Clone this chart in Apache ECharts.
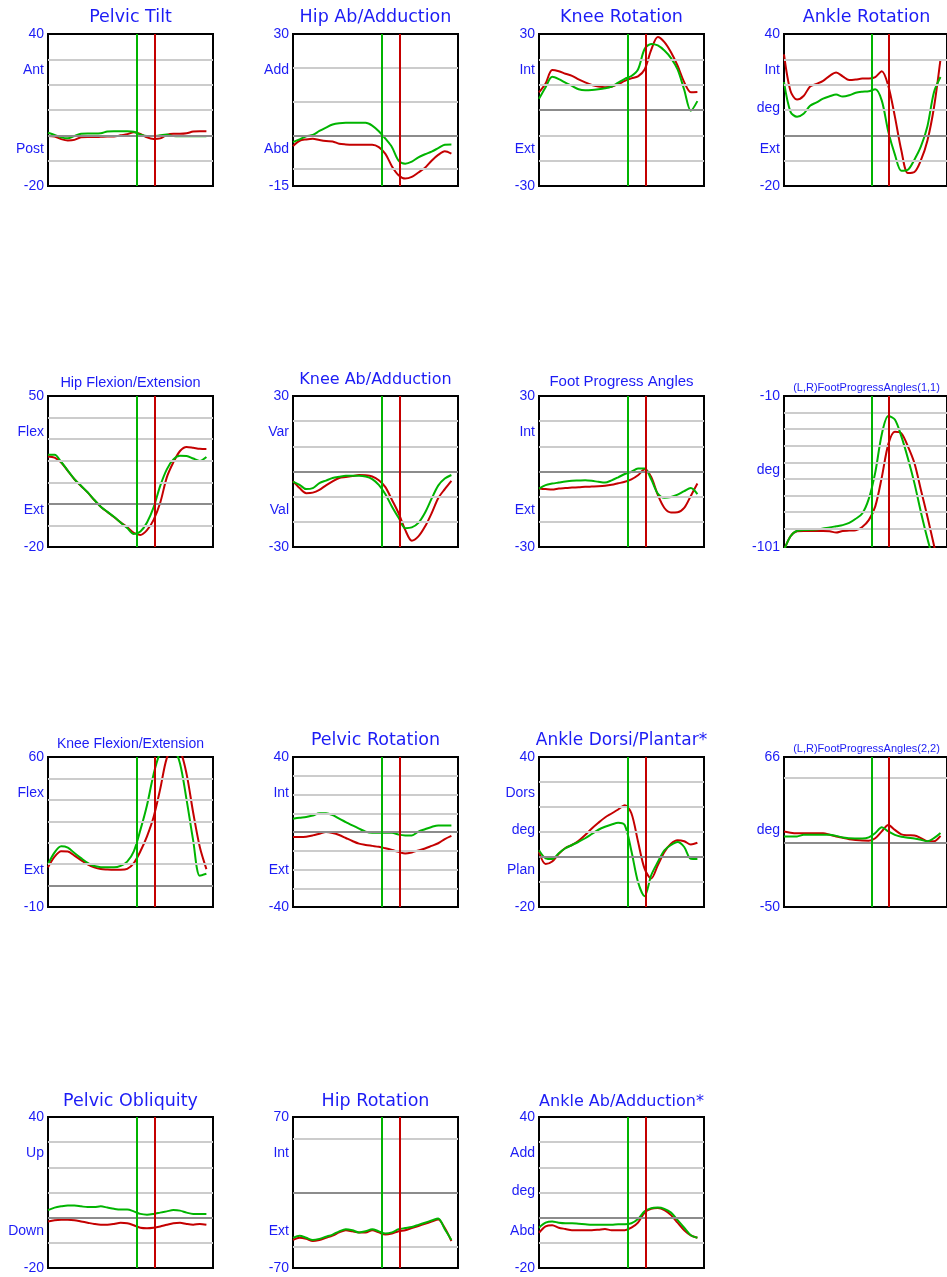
<!DOCTYPE html>
<html lang="en">
<head>
<meta charset="UTF-8">
<style>
html, body { height: 100%; margin: 0; background: #fff; }
</style>
</head>
<body>
<div id="chart" style="width:947px;height:1277px;"></div>
<script src="https://cdn.jsdelivr.net/npm/echarts@6.0.0/dist/echarts.min.js"></script>
<script>
// % of gait cycle
var cycle = [0,4,8,12,16,20,24,28,32,36,40,44,48,52,56,60,64,68,72,76,80,84,88,92,96];

// foot-off events (% cycle)
var greenFootOff = 54;
var redFootOff = 64.4;

var pelvicTiltRed   = [-0.3,-0.5,-1.5,-2,-1.8,-0.8,-0.7,-0.7,-0.6,-0.5,-0.5,0,0.4,1.2,0.6,-0.8,-1.4,-1.2,0.2,0.6,0.6,0.8,1.5,1.6,1.6];
var pelvicTiltGreen = [1,0.2,-0.8,-1.2,-0.3,0.6,0.7,0.7,0.8,1.5,1.6,1.6,1.6,1.4,0.3,-0.3,-0.3,0,0.3,-0.3,-0.4,-0.4,-0.4,-0.4,-0.4];

var hipAbdRed   = [-3.2,-1.6,-1.2,-1.0,-1.4,-1.7,-1.8,-2.5,-2.7,-2.8,-2.8,-2.8,-2.8,-3.5,-5.5,-9.2,-11.8,-12.8,-12.3,-11.0,-9.6,-7.5,-5.8,-4.7,-5.4];
var hipAbdGreen = [-2,-1.2,-0.3,0.1,1.3,2.3,3.2,3.6,3.7,3.7,3.7,3.7,2.9,1.2,-1.0,-3.5,-7.5,-8.4,-7.8,-6.5,-5.6,-4.8,-3.8,-2.8,-2.7];

var kneeRotRed   = [7,10.5,15.8,15.3,14.3,13.5,12.1,10.9,9.9,9.3,9.0,9.2,10.2,11.5,12.5,13.3,16,23.7,28.8,26.8,22.8,17.5,11,7,7.1];
var kneeRotGreen = [4.4,9,13.1,12.2,10.8,9.5,8.2,7.8,7.9,8.2,8.6,9.2,10.8,12.3,13.4,16,24.1,26.1,25.5,23.5,20.5,16,8,-0.3,3.5];

var ankleRotRed   = [32,17.5,14.1,15.5,19.3,20.3,21.5,23.5,24.8,23.3,21.8,22,22.4,22.4,23,25.3,19.5,7.5,-6,-14.9,-14.5,-9.8,-2,11,30];
var ankleRotGreen = [21,9.3,7.3,8.5,11.7,13,14.5,15.4,16.1,15.3,15.8,16.8,17.2,17.4,18.2,13.7,1.4,-7.5,-14,-13.6,-9.6,-4.4,3.6,17,23];

var hipFlexRed   = [22,21.4,19.2,15.3,11.4,8.3,5.3,1.8,-1.4,-3.8,-6.1,-8.6,-10.8,-13.4,-14.4,-12.2,-7.4,0.5,12.3,19.3,24.5,26.4,26,25.5,25.4];
var hipFlexGreen = [22.8,22.8,19.4,15.4,11.5,8.4,5.4,1.9,-1.3,-3.7,-6,-8.6,-11.2,-14,-12.8,-8.6,-1.6,8.3,16,20.6,22.3,22.2,21,19.9,21.7];

var kneeAbdRed   = [-3.8,-6.6,-8.6,-8.4,-7.3,-5.5,-3.9,-2.6,-2.2,-1.8,-1.4,-1.5,-2,-3.5,-6.2,-11.3,-16.6,-23.2,-27.5,-25.8,-21.9,-16.6,-10.6,-7,-3.7];
var kneeAbdGreen = [-4,-5.3,-7,-6.6,-4.6,-3.6,-2.6,-2.1,-1.7,-1.7,-1.7,-2,-3,-5.3,-9,-14,-18.4,-22.5,-22.2,-20.4,-16.4,-10.8,-5.6,-2.8,-1.4];

var footProgRed   = [-6.8,-7,-7.2,-6.8,-6.6,-6.4,-6.3,-6.1,-6,-5.9,-5.7,-5.3,-4.7,-4.1,-3.1,-1.5,0.9,-2.2,-9.3,-14.5,-16.3,-16.2,-14.5,-9.7,-4.8];
var footProgGreen = [-6.8,-5.4,-4.8,-4.4,-4,-3.7,-3.6,-3.5,-3.7,-4.1,-4.4,-3.5,-2.3,-1,-0.1,1.2,1.2,-3.1,-8.8,-10.4,-10.1,-9.2,-7.8,-6.6,-9];

var fpa11Red   = [-103,-94.5,-91.5,-91.3,-91.3,-91.3,-91.3,-91.5,-92.3,-91.3,-91.1,-90.9,-88.9,-84.8,-76.5,-59,-39,-31.5,-32.5,-40.3,-50.4,-66.6,-82.8,-100,-117];
var fpa11Green = [-103,-94.5,-91.2,-90.8,-90.6,-90.5,-89.8,-89.2,-88.5,-87.8,-86.5,-84,-80.8,-72,-56,-33,-22,-24.2,-34.3,-47.5,-62.5,-80,-96,-110,-122];

var kneeFlexRed   = [8.5,13.5,16,15.9,14,11.9,9.9,8.5,7.7,7.5,7.4,7.4,7.8,10.5,16,23,32,45,59.5,64,63,52,34,18,7.7];
var kneeFlexGreen = [10,15.5,18.3,17.7,15.2,12.8,10.6,9.1,8.6,8.5,8.5,9.2,11.2,16,26,37.5,52,62,65,64,57,40,21,4.6,5.5];

var pelvicRotRed   = [-2.7,-2.7,-2.5,-1.8,-0.9,0,-0.5,-1.6,-3.2,-4.8,-6.2,-6.9,-7.4,-7.9,-8.7,-9.6,-10.6,-11.5,-10.9,-9.8,-8.8,-7.4,-6,-3.8,-2.1];
var pelvicRotGreen = [7.1,7.6,8,8.8,10,10,9,7.1,5.3,3.5,1.8,0.2,-0.4,-0.4,-0.4,-0.4,-1.4,-1.8,-1.8,0.2,1.5,2.7,3.5,3.5,3.5];

var ankleDorsiRed   = [2,-2.8,-1.8,1.3,3.6,4.8,6.5,8.8,11.4,13.7,15.8,17.4,19,20.7,17.5,6.2,-4.7,-8.6,-3.3,2,5.3,6.7,6.3,5,5.7];
var ankleDorsiGreen = [2.7,-0.5,-0.8,1.5,3.5,4.8,6.1,7.5,9.2,10.9,12.1,13,13.7,12.7,2.4,-10,-15.7,-7.3,-2,2.7,4.8,6,4,-0.7,-0.8];

var fpa22Red   = [8.4,7.5,7.1,7.1,7.1,7.1,7,5.8,4.5,3.5,2.4,1.8,1.4,1.3,3.2,8.5,13.4,9.6,6.2,5.5,5.3,3.3,0.8,0.8,5];
var fpa22Green = [4.6,4.6,4.6,5.8,5.8,5.8,5.8,5.8,5,3.7,3.2,3,2.9,3.8,7.2,11.6,8.4,5.8,4.3,3.6,3,2,0.8,3.3,7.3];

var pelvicObliqRed   = [-1.5,-1,-0.8,-0.8,-1,-1.5,-2,-2.5,-2.8,-2.8,-2.5,-2,-2.2,-3,-4,-4.2,-4,-3.5,-2.8,-2.2,-2,-2.5,-2.8,-2.5,-2.8];
var pelvicObliqGreen = [3,4,4.5,4.8,4.8,4.5,4.2,4.2,4.5,4,3.5,3.2,3.2,2.5,1.5,1.2,1.5,2,2.5,3,2.8,2,1.5,1.5,1.5];

var hipRotRed   = [-44,-42,-43,-45,-44,-42,-40,-37,-35,-36,-37,-37,-35,-37,-39,-38,-36,-35,-33,-31,-29,-27,-25,-33,-45];
var hipRotGreen = [-42,-40,-42,-44,-43,-41,-39,-36,-34,-35,-37,-36,-34,-36,-38,-37,-34,-33,-32,-30,-28,-26,-24,-34,-44];

var ankleAbdRed   = [-6,-3.5,-3,-4,-4.5,-5,-5,-5,-5,-4.8,-4.5,-5,-5,-5,-4,-2,2,3.5,3.8,3,1,-2,-5,-7,-8];
var ankleAbdGreen = [-4,-2,-1.5,-2,-2.2,-2.2,-2.4,-2.6,-2.8,-2.8,-2.8,-2.8,-2.6,-2.6,-2.2,-0.5,2.5,3.8,4,3.5,2,-1,-4,-7,-8];

// panel table: title, y range, grid line values, side words (top, middle, bottom)
var panels = [
  {title:'Pelvic Tilt', min:-20, max:40, lines:[-10,0,10,20,30], words:['Ant','','Post'], red:pelvicTiltRed, green:pelvicTiltGreen},
  {title:'Hip Ab/Adduction', min:-15, max:30, lines:[-10,0,10,20], words:['Add','','Abd'], red:hipAbdRed, green:hipAbdGreen},
  {title:'Knee Rotation', min:-30, max:30, lines:[-20,-10,0,10,20], words:['Int','','Ext'], red:kneeRotRed, green:kneeRotGreen},
  {title:'Ankle Rotation', min:-20, max:40, lines:[-10,0,10,20,30], words:['Int','deg','Ext'], red:ankleRotRed, green:ankleRotGreen},
  {title:'Hip Flexion/Extension', min:-20, max:50, lines:[-10,0,10,20,30,40], words:['Flex','','Ext'], red:hipFlexRed, green:hipFlexGreen},
  {title:'Knee Ab/Adduction', min:-30, max:30, lines:[-20,-10,0,10,20], words:['Var','','Val'], red:kneeAbdRed, green:kneeAbdGreen},
  {title:'Foot Progress Angles', min:-30, max:30, lines:[-20,-10,0,10,20], words:['Int','','Ext'], red:footProgRed, green:footProgGreen},
  {title:'(L,R)FootProgressAngles(1,1)', min:-101, max:-10, lines:[-90,-80,-70,-60,-50,-40,-30,-20], words:['','deg',''], red:fpa11Red, green:fpa11Green},
  {title:'Knee Flexion/Extension', min:-10, max:60, lines:[0,10,20,30,40,50], words:['Flex','','Ext'], red:kneeFlexRed, green:kneeFlexGreen},
  {title:'Pelvic Rotation', min:-40, max:40, lines:[-30,-20,-10,0,10,20,30], words:['Int','','Ext'], red:pelvicRotRed, green:pelvicRotGreen},
  {title:'Ankle Dorsi/Plantar*', min:-20, max:40, lines:[-10,0,10,20,30], words:['Dors','deg','Plan'], red:ankleDorsiRed, green:ankleDorsiGreen},
  {title:'(L,R)FootProgressAngles(2,2)', min:-50, max:66, lines:[0,50], words:['','deg',''], red:fpa22Red, green:fpa22Green},
  {title:'Pelvic Obliquity', min:-20, max:40, lines:[-10,0,10,20,30], words:['Up','','Down'], red:pelvicObliqRed, green:pelvicObliqGreen},
  {title:'Hip Rotation', min:-70, max:70, lines:[-50,0,50], words:['Int','','Ext'], red:hipRotRed, green:hipRotGreen},
  {title:'Ankle Ab/Adduction*', min:-20, max:40, lines:[-10,0,10,20,30], words:['Add','deg','Abd'], red:ankleAbdRed, green:ankleAbdGreen}
];

// layout of the 4x4 sheet
var colLeft = [48, 293, 539, 784];
var rowTop = [34, 396, 757, 1117];
var rowHeight = [152, 151, 150, 151];
var boxWidth = 165;
// title font: [size, family]  (W = wide face, N = narrow face)
var titleFont = [
  [17.5,'W'],[17.5,'W'],[17.5,'W'],[17.5,'W'],
  [14.5,'N'],[16,'W'],[15,'N'],[11,'N'],
  [14,'N'],[17.5,'W'],[17,'W'],[11,'N'],
  [17.5,'W'],[17.5,'W'],[16,'W']
];
var titleMid = [19,19,19,19, 384,381,383,389, 745,742,742,750, 1103,1103,1103];

var BLUE = '#1c1cf5';
var RED = '#c40000';
var GREEN = '#00b400';
var wordFrac = [0.24, 0.49, 0.755];

var myChart = echarts.init(document.getElementById('chart'));

var titles = [], grids = [], xAxes = [], yAxes = [], series = [];

panels.forEach(function (p, i) {
    var col = i % 4, row = Math.floor(i / 4);
    var left = colLeft[col], top = rowTop[row], h = rowHeight[row];
    var fs = titleFont[i][0];

    titles.push({
        text: p.title,
        left: left + boxWidth / 2,
        top: titleMid[i] - fs * 0.58,
        textAlign: 'center',
        padding: 0,
        textStyle: {
            color: BLUE,
            fontSize: fs,
            fontWeight: 'normal',
            fontFamily: titleFont[i][1] === 'W' ? 'DejaVu Sans' : 'Liberation Sans'
        }
    });

    grids.push({
        left: left, top: top, width: boxWidth, height: h,
        show: true, borderColor: '#000', borderWidth: 2,
        backgroundColor: 'transparent'
    });

    xAxes.push({
        gridIndex: i, type: 'value', min: 0, max: 100, show: false
    });

    // axis labels: min, max and the side words
    var labelVals = [p.min, p.max];
    var labelMap = {};
    labelMap[p.min.toFixed(2)] = String(p.min);
    labelMap[p.max.toFixed(2)] = String(p.max);
    p.words.forEach(function (w, k) {
        if (!w) return;
        var v = +(p.max - wordFrac[k] * (p.max - p.min)).toFixed(2);
        labelVals.push(v);
        labelMap[v.toFixed(2)] = w;
    });

    yAxes.push({
        gridIndex: i, type: 'value', min: p.min, max: p.max,
        axisLine: {show: false},
        axisTick: {show: false},
        splitLine: {show: false},
        axisLabel: {
            customValues: labelVals,
            margin: 4,
            color: BLUE,
            fontSize: 14,
            fontFamily: 'Liberation Sans',
            formatter: function (v) {
                var s = labelMap[(+v).toFixed(2)];
                return s === undefined ? '' : s;
            }
        }
    });

    var guide = p.lines.map(function (v) {
        return {yAxis: v, lineStyle: {color: v === 0 ? '#8c8c8c' : '#cccccc'}};
    });
    guide.push({xAxis: greenFootOff, lineStyle: {color: GREEN}});
    guide.push({xAxis: redFootOff, lineStyle: {color: RED}});

    series.push({
        type: 'line', xAxisIndex: i, yAxisIndex: i, data: [],
        silent: true,
        markLine: {
            symbol: ['none', 'none'], silent: true, animation: false,
            label: {show: false},
            lineStyle: {type: 'solid', width: 2},
            emphasis: {disabled: true},
            data: guide
        }
    });

    [['Left', p.red, RED], ['Right', p.green, GREEN]].forEach(function (s) {
        series.push({
            name: s[0], type: 'line', xAxisIndex: i, yAxisIndex: i,
            data: cycle.map(function (x, k) { return [x, s[1][k]]; }),
            showSymbol: false, smooth: 0.3, clip: true,
            lineStyle: {color: s[2], width: 2},
            itemStyle: {color: s[2]},
            z: 3, silent: true
        });
    });
});

myChart.setOption({
    animation: false,
    title: titles,
    grid: grids,
    xAxis: xAxes,
    yAxis: yAxes,
    series: series
});
</script>
</body>
</html>
